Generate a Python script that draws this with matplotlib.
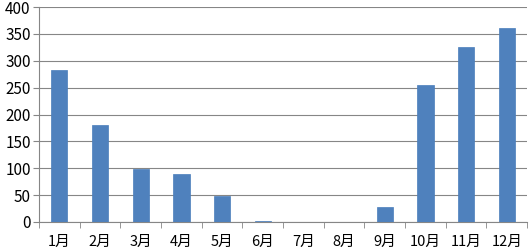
import numpy as np
import matplotlib
matplotlib.use("Agg")
import matplotlib.pyplot as plt

plt.rcParams['font.family'] = ['Noto Sans CJK SC', 'DejaVu Sans']

months = ["1月", "2月", "3月", "4月", "5月", "6月",
          "7月", "8月", "9月", "10月", "11月", "12月"]
values = [282, 180, 99, 90, 49, 1, 0, 0, 27, 255, 326, 361]
yticks = [0, 50, 100, 150, 200, 250, 300, 350, 400]

fig = plt.figure(figsize=(5.3, 2.5), dpi=100)
ax = fig.add_axes([0.0736, 0.112, 0.921, 0.86])

x = np.arange(len(months))
ax.bar(x, values, width=0.4, color="#4F81BD", edgecolor="#4A7EBB",
       linewidth=0.5, zorder=3)

ax.set_xlim(-0.5, len(months) - 0.5)
ax.set_ylim(0, 400)
ax.set_yticks(yticks)
ax.set_yticklabels([str(v) for v in yticks], fontsize=11)
ax.set_xticks(x)
ax.set_xticklabels(months, fontsize=10.5)
# category separator ticks
ax.set_xticks(np.arange(-0.5, len(months)), minor=True)
ax.tick_params(axis="x", which="major", length=0, pad=9)
ax.tick_params(axis="x", which="minor", length=4, color="#868686")
ax.tick_params(axis="y", length=4, color="#868686", pad=2)

ax.grid(axis="y", color="#868686", linewidth=0.8, zorder=0)
for s in ["top", "right"]:
    ax.spines[s].set_visible(False)
for s in ["left", "bottom"]:
    ax.spines[s].set_color("#868686")

fig.savefig("out.png", dpi=100)
